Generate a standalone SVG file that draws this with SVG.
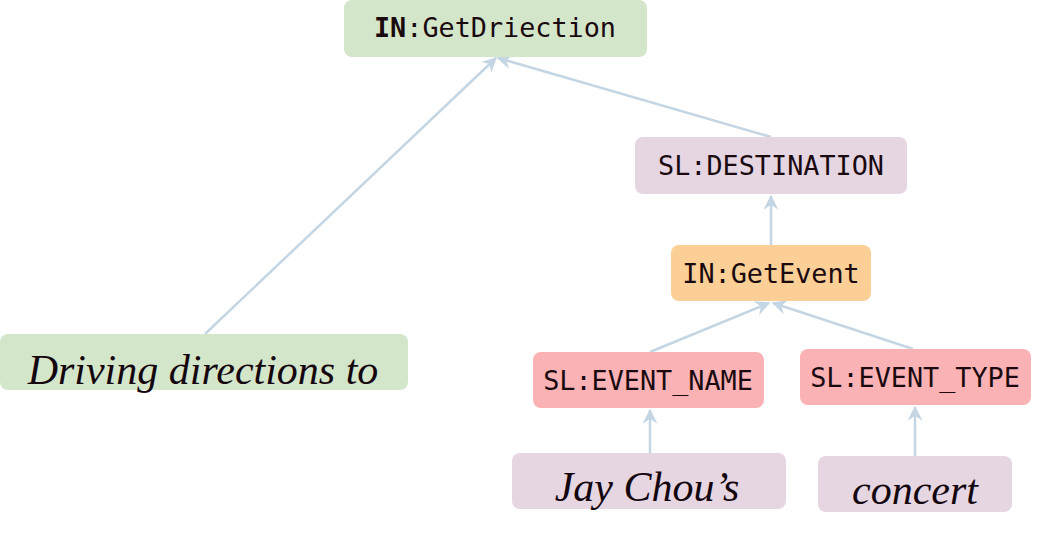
<svg xmlns="http://www.w3.org/2000/svg" width="1038" height="542" viewBox="0 0 1038 542">
<style>
.mono{font-family:"DejaVu Sans Mono","Liberation Mono",monospace;font-size:26.8px;fill:#1a0a10;text-anchor:middle}
.ser{font-family:"Liberation Serif","Times New Roman",serif;font-style:italic;font-size:42px;fill:#14060e;text-anchor:middle}
.green{fill:#d4e6c9}
.pink{fill:#e6d6e2}
.orange{fill:#fbcf96}
.red{fill:#fbb2b4}
.edge{stroke:#c4d5e3;stroke-width:2.5;fill:none;marker-end:url(#ah)}
</style>
<defs>
<marker id="ah" viewBox="0 0 12 12" refX="11" refY="6" markerWidth="6" markerHeight="6" markerUnits="strokeWidth" orient="auto">
<path d="M0,0 L12,6 L0,12 L4,6 Z" fill="#c4d5e3"/>
</marker>
</defs>
<rect width="1038" height="542" fill="#ffffff"/>
<g id="connectors">
<line class="edge" x1="205" y1="334" x2="496" y2="58"/>
<line class="edge" x1="771" y1="137" x2="498" y2="58"/>
<line class="edge" x1="771" y1="245" x2="771" y2="196"/>
<line class="edge" x1="650" y1="352" x2="769" y2="303"/>
<line class="edge" x1="913" y1="349" x2="773" y2="303"/>
<line class="edge" x1="650" y1="453" x2="650" y2="410"/>
<line class="edge" x1="915" y1="456" x2="915" y2="407"/>
</g>
<g id="n-getdirection">
<rect class="green" x="344" y="0" width="303" height="57" rx="8"/>
<text class="mono" x="495" y="37"><tspan font-weight="bold">IN</tspan>:GetDriection</text>
</g>
<g id="n-destination">
<rect class="pink" x="635" y="137" width="272" height="57" rx="8"/>
<text class="mono" x="771" y="175">SL:DESTINATION</text>
</g>
<g id="n-getevent">
<rect class="orange" x="671" y="245" width="200" height="56" rx="8"/>
<text class="mono" x="771" y="283">IN:GetEvent</text>
</g>
<g id="n-eventname">
<rect class="red" x="533" y="352" width="231" height="56" rx="8"/>
<text class="mono" x="648" y="390">SL:EVENT_NAME</text>
</g>
<g id="n-eventtype">
<rect class="red" x="800" y="349" width="231" height="56" rx="8"/>
<text class="mono" x="915" y="387">SL:EVENT_TYPE</text>
</g>
<g id="n-driving">
<rect class="green" x="0" y="334" width="408" height="56" rx="8"/>
<text class="ser" x="203" y="384">Driving directions to</text>
</g>
<g id="n-jaychou">
<rect class="pink" x="512" y="453" width="274" height="56" rx="8"/>
<text class="ser" x="647" y="501">Jay Chou’s</text>
</g>
<g id="n-concert">
<rect class="pink" x="818" y="456" width="194" height="56" rx="8"/>
<text class="ser" x="915" y="504">concert</text>
</g>
</svg>
